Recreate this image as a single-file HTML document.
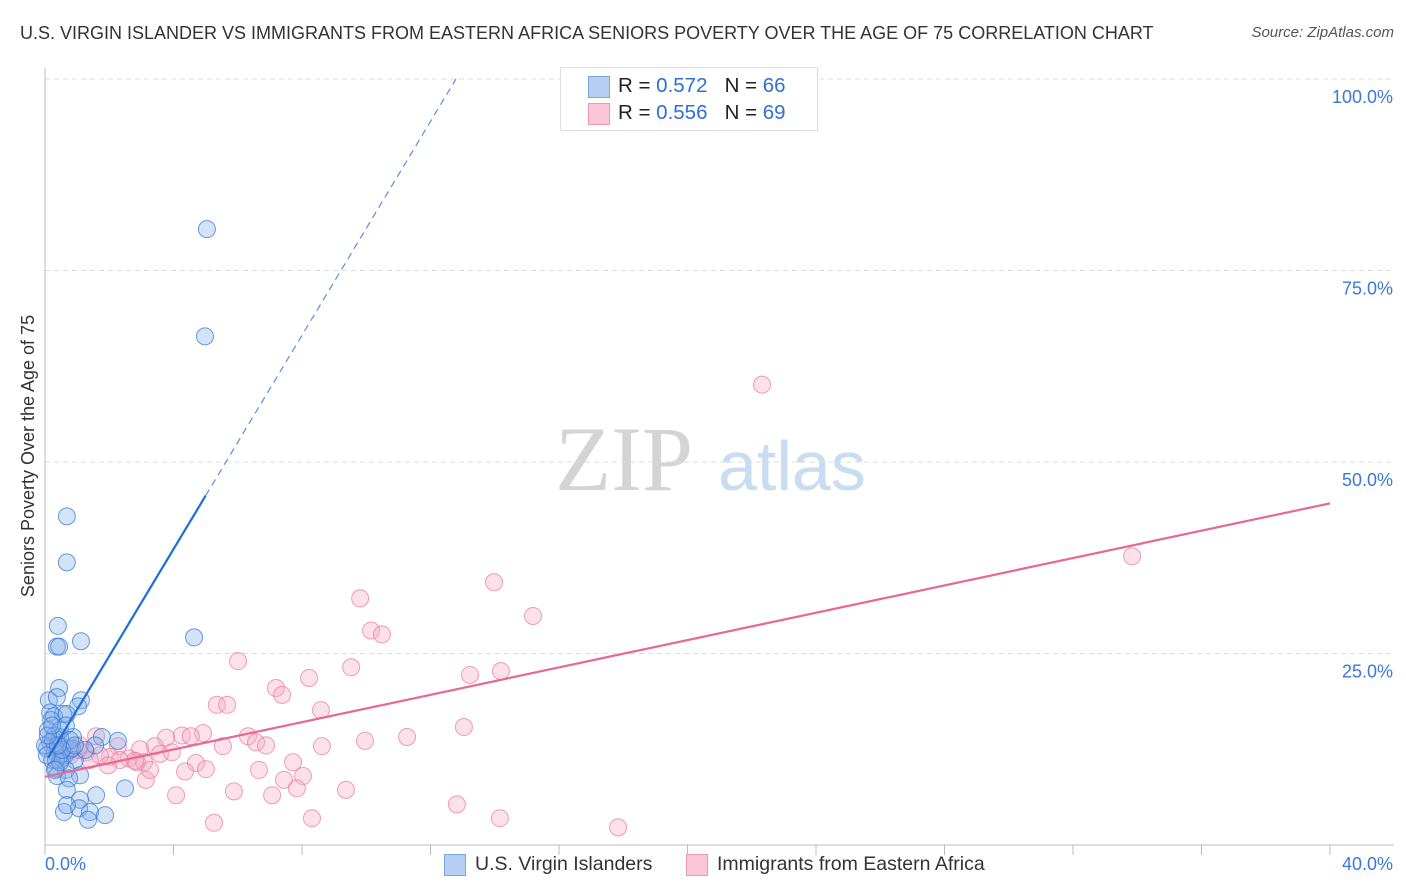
<!DOCTYPE html>
<html><head><meta charset="utf-8">
<style>
body{margin:0;background:#fff;font-family:"Liberation Sans",sans-serif;}
#wrap{position:relative;width:1406px;height:892px;overflow:hidden;}
.t{position:absolute;white-space:nowrap;}
</style></head><body>
<div id="wrap">
<div class="t" style="left:20px;top:23px;font-size:18px;color:#333">U.S. VIRGIN ISLANDER VS IMMIGRANTS FROM EASTERN AFRICA SENIORS POVERTY OVER THE AGE OF 75 CORRELATION CHART</div>
<div class="t" style="right:12px;top:24px;font-size:15px;color:#555;font-style:italic">Source: ZipAtlas.com</div>
<svg id="svg" width="1406" height="892" style="position:absolute;left:0;top:0"></svg>
</div>
<script>
const xTicks=[0,40];
const yTicks=[25,50,75,100];
const blueX=[5.04,4.98,0.68,0.68,0.40,0.37,0.44,1.12,4.64,0.44,0.12,0.37,1.12,1.03,0.16,0.56,0.28,0.19,0.68,0.09,0.31,0.87,0.47,1.77,0.16,2.27,0.47,0.78,0.06,0.31,0.62,0.22,0.53,0.93,0.34,0.65,1.09,0.37,0.75,0.34,0.47,2.49,1.59,0.68,1.09,1.06,1.40,0.59,1.87,1.34,0.84,0,0.06,0.25,0.47,0.65,0.78,0.53,0.40,0.09,0.22,1.56,1.25,0.93,0.31,0.68];
const blueY=[80.4,66.4,42.9,36.9,28.6,25.9,25.9,26.6,27.1,20.5,18.9,19.3,18.9,18.1,17.3,17.1,16.8,16.3,17.1,15.0,14.3,14.1,14.1,14.1,13.4,13.6,13.0,12.4,12.6,12.1,11.7,11.1,11.3,11.1,10.0,9.8,9.1,9.0,8.7,11.1,10.8,7.4,6.5,7.2,5.9,4.8,4.3,4.3,3.9,3.3,12.6,13.0,11.7,13.7,15.0,15.6,13.7,12.4,13.0,14.3,15.6,13.0,12.4,13.0,9.8,5.2];
const pinkX=[22.32,33.84,13.98,9.81,15.19,10.15,10.49,6.01,9.53,7.19,8.22,7.38,13.23,14.19,5.35,5.67,8.59,13.04,1.59,11.27,9.96,4.92,4.26,4.54,3.77,3.42,6.32,6.57,6.88,5.54,8.62,2.27,2.96,3.58,3.95,2.61,2.02,1.71,1.28,1.03,0.78,3.08,2.86,4.70,2.33,2.80,6.66,7.72,4.36,5.01,8.03,7.44,7.84,3.14,5.88,7.07,4.08,9.37,12.82,5.26,8.31,14.16,17.84,0.47,1.09,1.40,1.96,3.27,0.31];
const pinkY=[60.1,37.7,34.3,32.2,29.9,28.0,27.5,24.0,23.2,20.5,21.8,19.6,22.2,22.7,18.3,18.3,17.6,15.4,14.2,14.1,13.6,14.6,14.3,14.2,14.0,12.9,14.2,13.4,13.0,12.9,12.9,12.9,12.5,11.9,12.1,11.3,11.5,11.7,12.1,12.4,11.7,10.8,10.8,10.7,11.1,11.0,9.8,10.8,9.6,9.9,9.0,8.5,7.4,8.5,7.0,6.5,6.5,7.2,5.3,2.9,3.5,3.5,2.3,11.1,13.0,11.1,10.4,9.8,13.0];
const blueFit=[10.7,6.98], pinkFit=[8.9,0.8925];
const X0=45,X1=1330,Y0=845,Y100=79;
const sx=v=>X0+(X1-X0)*v/40, sy=v=>Y0-(Y0-Y100)*v/100;
const svg=document.getElementById('svg');const NS='http://www.w3.org/2000/svg';
function mk(tag,a,parent){const e=document.createElementNS(NS,tag);for(const k in a)e.setAttribute(k,a[k]);(parent||svg).appendChild(e);return e;}
let wm=mk('text',{x:555,y:490,'font-size':92,'font-family':'Liberation Serif, serif',fill:'#d4d4d4'});wm.textContent='ZIP';


let wm2=mk('text',{x:718,y:490,'font-size':70,'font-family':'Liberation Sans, sans-serif',fill:'#c8dcf2'});wm2.textContent='atlas';


yTicks.forEach(v=>{const g=mk('line',{x1:X0,x2:1394,y1:sy(v),y2:sy(v),stroke:'#dddddd','stroke-dasharray':'5,4'});


const t=mk('text',{x:1393,y:sy(v)+24,'text-anchor':'end','font-size':18,fill:'#3b78d8'});t.textContent=v.toFixed(1)+'%';

});
const ax=mk('line',{x1:X0,x2:X0,y1:68,y2:Y0,stroke:'#bbb'});


const bx=mk('line',{x1:X0,x2:1394,y1:Y0,y2:Y0,stroke:'#bbb'});


for(let i=0;i<=10;i++){const tk=mk('line',{x1:sx(i*4),x2:sx(i*4),y1:Y0,y2:Y0+10,stroke:'#bbb'});

}
xTicks.forEach((v,i)=>{const t=mk('text',{x:i?1393:45,y:870,'text-anchor':i?'end':'start','font-size':18,fill:'#3b78d8'});t.textContent=v.toFixed(1)+'%';

});
const yt=mk('text',{x:0,y:0,'font-size':18,fill:'#333','text-anchor':'middle',transform:'translate(34,456) rotate(-90)'});yt.textContent='Seniors Poverty Over the Age of 75';


function pts(xs,ys,fill,stroke,name){xs.forEach((x,i)=>{const c=mk('circle',{cx:sx(x),cy:sy(ys[i]),r:8.5,fill:fill,stroke:stroke,'stroke-width':1});

});}
pts(pinkX,pinkY,'rgba(246,170,195,0.35)','rgba(230,120,155,0.7)','pink-point');
pts(blueX,blueY,'rgba(130,175,235,0.35)','rgba(60,120,210,0.75)','blue-point');
const bxEnd=5.0, bxTop=(100-blueFit[0])/blueFit[1];
const bl=mk('line',{x1:sx(0.1),y1:sy(blueFit[0]+blueFit[1]*0.1),x2:sx(bxEnd),y2:sy(blueFit[0]+blueFit[1]*bxEnd),stroke:'#1f6fd8','stroke-width':2.2});


const bd=mk('line',{x1:sx(bxEnd),y1:sy(blueFit[0]+blueFit[1]*bxEnd),x2:sx(bxTop),y2:sy(100),stroke:'#5a8fd8','stroke-width':1.2,'stroke-dasharray':'7,5'});


const pl=mk('line',{x1:sx(0),y1:sy(pinkFit[0]),x2:sx(40),y2:sy(pinkFit[0]+pinkFit[1]*40),stroke:'#e8688f','stroke-width':2.2});


</script>
<div class="t" style="left:560px;top:67px;width:256px;height:62px;border:1px solid #ddd;background:#fff;font-size:20.5px;color:#222">
 <div style="position:absolute;left:27px;top:8px;width:20px;height:20px;background:#b5d0f3;border:1px solid #7aa6e0"></div>
 <div style="position:absolute;left:57px;top:6px">R = <span style="color:#2f6fd0">0.572</span>&nbsp;&nbsp;&nbsp;N = <span style="color:#2f6fd0">66</span></div>
 <div style="position:absolute;left:27px;top:35px;width:20px;height:20px;background:#fbc6d6;border:1px solid #eb9ab5"></div>
 <div style="position:absolute;left:57px;top:33px">R = <span style="color:#2f6fd0">0.556</span>&nbsp;&nbsp;&nbsp;N = <span style="color:#2f6fd0">69</span></div>
</div>
<div>
 <div style="position:absolute;left:444px;top:854px;width:20px;height:20px;background:#b5d0f3;border:1px solid #7aa6e0"></div>
 <div class="t" style="left:475px;top:853px;font-size:19.5px;color:#333">U.S. Virgin Islanders</div>
</div>
<div>
 <div style="position:absolute;left:686px;top:854px;width:20px;height:20px;background:#fbc6d6;border:1px solid #eb9ab5"></div>
 <div class="t" style="left:717px;top:853px;font-size:19.5px;color:#333">Immigrants from Eastern Africa</div>
</div>
</body></html>
